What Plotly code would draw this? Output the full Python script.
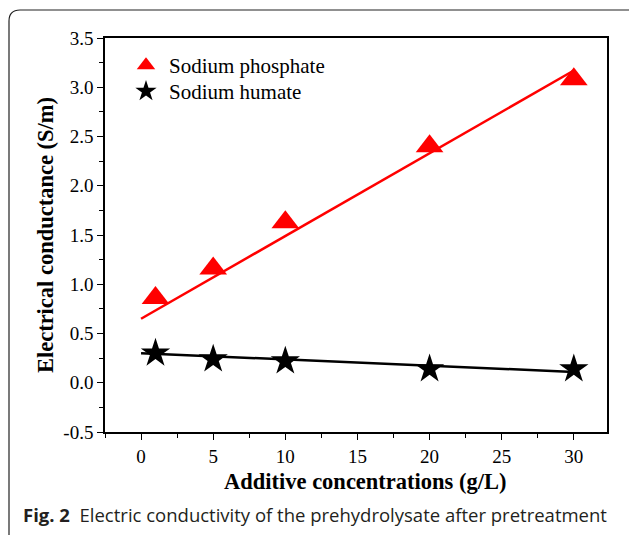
import plotly.graph_objects as go

# ---- data ----
concentrations = [1, 5, 10, 20, 30]
phosphate = [0.86, 1.16, 1.63, 2.40, 3.08]
humate = [0.30, 0.24, 0.22, 0.14, 0.14]
fit_x = [0, 30]
phosphate_fit = [0.65, 3.17]
humate_fit = [0.30, 0.11]
x_ticks = [0, 5, 10, 15, 20, 25, 30]
x_tick_labels = ["0", "5", "10", "15", "20", "25", "30"]
y_ticks = [-0.5, 0.0, 0.5, 1.0, 1.5, 2.0, 2.5, 3.0, 3.5]
y_tick_labels = ["-0.5", "0.0", "0.5", "1.0", "1.5", "2.0", "2.5", "3.0", "3.5"]

W, H = 629, 535
L, R, T, B = 105, 22, 38, 103
PW, PH = W - L - R, H - T - B


def px(x):
    return (x - L) / PW


def py(y):
    return (H - B - y) / PH


serif = "Liberation Serif"

fig = go.Figure()
fig.add_trace(go.Scatter(x=fit_x, y=phosphate_fit, mode="lines",
                         line=dict(color="#ff0000", width=2.5), showlegend=False))
fig.add_trace(go.Scatter(x=fit_x, y=humate_fit, mode="lines",
                         line=dict(color="#000000", width=2.5), showlegend=False))
fig.add_trace(go.Scatter(x=concentrations, y=phosphate, mode="markers", name="Sodium phosphate",
                         legend="legend",
                         marker=dict(symbol="triangle-up", size=24, color="#ff0000")))
fig.add_trace(go.Scatter(x=concentrations, y=humate, mode="markers", name="Sodium humate",
                         legend="legend2",
                         marker=dict(symbol="star", size=22, color="#000000")))

# rounded frame around the figure
x0, y0, x1, y1, r = 9, 10, 645, 550, 11
path = (f"M {px(x0)},{py(y0 + r)} L {px(x0)},{py(y1)} "
        f"M {px(x0)},{py(y0 + r)} Q {px(x0)},{py(y0)} {px(x0 + r)},{py(y0)} "
        f"L {px(x1)},{py(y0)}")
fig.add_shape(type="path", path=path, xref="paper", yref="paper",
              line=dict(color="#222222", width=1.2), layer="above")

fig.add_annotation(x=px(21), y=py(514), xref="paper", yref="paper", xanchor="left", yanchor="middle",
                   showarrow=False,
                   text="<b>Fig. 2</b>  Electric conductivity of the prehydrolysate after pretreatment",
                   font=dict(family="Open Sans", size=18.5, color="#231f20"))

# x-axis title (placed slightly right of plot centre, as in the original)
fig.add_annotation(x=px(365), y=py(481), xref="paper", yref="paper", xanchor="center", yanchor="middle",
                   showarrow=False, text="<b>Additive concentrations (g/L)</b>",
                   font=dict(family=serif, size=22.5, color="#000000"))

axis_common = dict(showline=True, linecolor="#000000", linewidth=1.5, mirror=True,
                   ticks="outside", ticklen=6, tickwidth=1.2, tickcolor="#000000",
                   showgrid=False, zeroline=False,
                   tickfont=dict(family=serif, size=19, color="#000000"))

fig.update_xaxes(range=[-2.5, 32.3], tickvals=x_ticks, ticktext=x_tick_labels,
                 minor=dict(ticks="outside", ticklen=4, dtick=2.5, tick0=0, tickcolor="#000000", tickwidth=1.2),
                 **axis_common)
fig.update_yaxes(range=[-0.5, 3.5], tickvals=y_ticks, ticktext=y_tick_labels,
                 minor=dict(ticks="outside", ticklen=4, dtick=0.25, tick0=0, tickcolor="#000000", tickwidth=1.2),
                 title=dict(text="<b>Electrical conductance (S/m)</b>", standoff=3,
                            font=dict(family=serif, size=22.5, color="#000000")),
                 **axis_common)

legend_common = dict(xanchor="left", yanchor="top", bgcolor="rgba(0,0,0,0)",
                     font=dict(family=serif, size=21, color="#000000"),
                     itemsizing="trace", itemwidth=36)
fig.update_layout(width=W, height=H, margin=dict(l=L, r=R, t=T, b=B, pad=0),
                  paper_bgcolor="white", plot_bgcolor="white",
                  legend=dict(x=px(123), y=py(45), **legend_common),
                  legend2=dict(x=px(123), y=py(71), **legend_common))

fig.write_html("out.html", config={"displayModeBar": False},
               post_script="document.body.style.margin='0px';")
